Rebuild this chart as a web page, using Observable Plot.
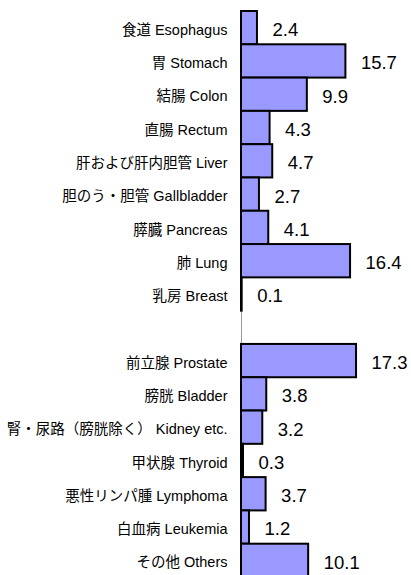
<!DOCTYPE html>
<html>
<head>
<meta charset="utf-8">
<script src="https://cdn.jsdelivr.net/npm/d3@7"></script>
<script src="https://cdn.jsdelivr.net/npm/@observablehq/plot@0.6"></script>
<style>
  html, body { margin: 0; padding: 0; background: #fff; overflow: hidden; }
</style>
</head>
<body>
<div id="chart"></div>
<script>
const categories = [
  "食道 Esophagus",
  "胃 Stomach",
  "結腸 Colon",
  "直腸 Rectum",
  "肝および肝内胆管 Liver",
  "胆のう・胆管 Gallbladder",
  "膵臓 Pancreas",
  "肺 Lung",
  "乳房 Breast",
  "",
  "前立腺 Prostate",
  "膀胱 Bladder",
  "腎・尿路（膀胱除く） Kidney etc.",
  "甲状腺 Thyroid",
  "悪性リンパ腫 Lymphoma",
  "白血病 Leukemia",
  "その他 Others"
];
const values = [2.4, 15.7, 9.9, 4.3, 4.7, 2.7, 4.1, 16.4, 0.1, null, 17.3, 3.8, 3.2, 0.3, 3.7, 1.2, 10.1];

const data = categories
  .map((c, i) => ({category: c, value: values[i]}))
  .filter(d => d.value != null);

const font = '"Liberation Sans", "Noto Sans CJK JP", sans-serif';

const chart = Plot.plot({
  width: 411,
  height: 577,
  marginLeft: 241,
  marginRight: 37,
  marginTop: 11,
  marginBottom: 0,
  style: {fontFamily: font, background: "#fff"},
  x: {domain: [0, 20], axis: null},
  y: {domain: categories, padding: 0, round: false, label: null},
  marks: [
    Plot.ruleX([0], {stroke: "#999", strokeWidth: 1}),
    Plot.barX(data, {
      y: "category",
      x: "value",
      fill: "#9999ff",
      stroke: "#000",
      strokeWidth: 2,
      inset: 0
    }),
    Plot.text(data, {
      y: "category",
      x: "value",
      text: d => d.value.toFixed(1),
      textAnchor: "start",
      dx: 15,
      dy: 2,
      fontSize: 18.5,
      fill: "#000"
    }),
    Plot.axisY({
      tickSize: 0,
      tickPadding: 14,
      fontSize: 14.5,
      dy: 2,
      fill: "#000",
      label: null
    })
  ]
});

document.getElementById("chart").appendChild(chart);
</script>
</body>
</html>
